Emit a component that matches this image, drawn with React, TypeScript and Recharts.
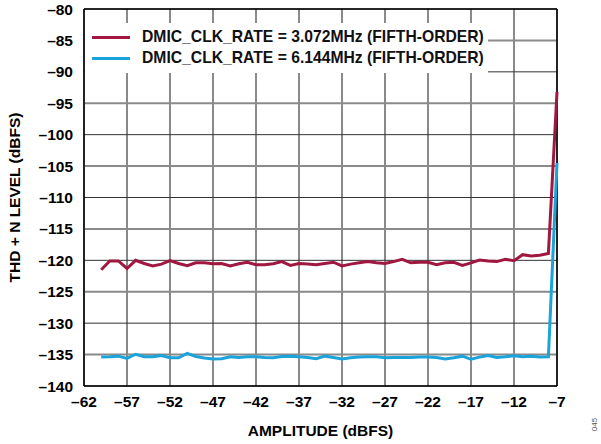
import {
    LineChart,
    Line,
    XAxis,
    YAxis,
    CartesianGrid,
    ReferenceLine,
    Label
} from "recharts";

// amplitude steps (dBFS)
const amplitude = [
    -60, -59, -58, -57, -56, -55, -54, -53, -52, -51, -50, -49, -48, -47, -46, -45, -44, -43,
    -42, -41, -40, -39, -38, -37, -36, -35, -34, -33, -32, -31, -30, -29, -28, -27, -26, -25,
    -24, -23, -22, -21, -20, -19, -18, -17, -16, -15, -14, -13, -12, -11, -10, -9, -8, -7
];

const rate3072 = [
    -121.5, -120.1, -120.1, -121.3, -120.0, -120.5, -120.9, -120.6, -120.05, -120.5, -120.85, -120.4,
    -120.4, -120.55, -120.5, -120.9, -120.55, -120.3, -120.7, -120.7, -120.55, -120.2, -120.8, -120.5,
    -120.6, -120.7, -120.5, -120.3, -120.9, -120.6, -120.4, -120.2, -120.4, -120.5, -120.2, -119.85,
    -120.4, -120.3, -120.3, -120.7, -120.4, -120.3, -120.8, -120.4, -119.95, -120.1, -120.2, -119.85,
    -120.05, -119.1, -119.3, -119.2, -118.9, -93.2
];

const rate6144 = [
    -135.4, -135.35, -135.25, -135.6, -134.95, -135.35, -135.35, -135.15, -135.5, -135.5, -134.8, -135.3,
    -135.55, -135.7, -135.65, -135.35, -135.45, -135.35, -135.35, -135.45, -135.5, -135.3, -135.25, -135.35,
    -135.45, -135.65, -135.25, -135.45, -135.7, -135.5, -135.4, -135.35, -135.35, -135.5, -135.45, -135.45,
    -135.45, -135.4, -135.4, -135.45, -135.7, -135.5, -135.25, -135.75, -135.4, -135.15, -135.45, -135.35,
    -135.2, -135.35, -135.25, -135.4, -135.35, -104.5
];

const xTicks = [-62, -57, -52, -47, -42, -37, -32, -27, -22, -17, -12, -7];
const yTicks = [-140, -135, -130, -125, -120, -115, -110, -105, -100, -95, -90, -85, -80];

const seriesNames = [
    "DMIC_CLK_RATE = 3.072MHz (FIFTH-ORDER)",
    "DMIC_CLK_RATE = 6.144MHz (FIFTH-ORDER)"
];
const RED = "#a0173f";
const BLUE = "#1ba3dc";
const FONT = "'Liberation Sans', Arial, sans-serif";

const data = amplitude.map((a, i) => ({ amp: a, r1: rate3072[i], r2: rate6144[i] }));

const fmt = (v: number) => String(v).replace("-", "\u2013");

const tickStyle = { fill: "#000", fontFamily: FONT, fontWeight: "bold", fontSize: 15.5 };

// legend sits over the grid with a white box
const LegendBox = () => (
    <div style={{ position: "absolute", left: 85, top: 23, width: 403, height: 50, background: "#fff", fontFamily: FONT, fontWeight: "bold", fontSize: 15.7 }}>
        {[RED, BLUE].map((c, i) => (
            <div key={i} style={{ position: "absolute", left: 7, top: 4 + i * 21, height: 20, display: "flex", alignItems: "center", whiteSpace: "nowrap" }}>
                <div style={{ width: 38, height: 3, background: c, marginRight: 12 }} />
                <span style={{ color: "#111" }}>{seriesNames[i]}</span>
            </div>
        ))}
    </div>
);

export default function App() {
    return (
        <div style={{ position: "absolute", left: 0, top: 0, width: 601, height: 444, background: "#fff" }}>
            <LineChart width={601} height={444} data={data} margin={{ top: 9, right: 44, bottom: 8, left: 0 }}>
                <CartesianGrid horizontal={false} stroke="#8a8a8a" strokeWidth={2} />
                {yTicks.map((t) => (
                    <ReferenceLine key={t} y={t} stroke={t % 10 === 0 ? "#333" : "#8a8a8a"} strokeWidth={t % 10 === 0 ? 1 : 2} />
                ))}
                <XAxis
                    dataKey="amp"
                    type="number"
                    domain={[-62, -7]}
                    ticks={xTicks}
                    tickFormatter={fmt}
                    tickLine={false}
                    tickMargin={4}
                    height={50}
                    axisLine={{ stroke: "#000", strokeWidth: 1.5 }}
                    tick={tickStyle}
                >
                    <Label value="AMPLITUDE (dBFS)" position="insideBottom" offset={0}
                        style={{ fill: "#000", fontFamily: FONT, fontWeight: "bold", fontSize: 15.5 }} />
                </XAxis>
                <YAxis
                    type="number"
                    domain={[-140, -80]}
                    ticks={yTicks}
                    tickFormatter={fmt}
                    tickLine={false}
                    tickMargin={5}
                    width={84}
                    axisLine={{ stroke: "#000", strokeWidth: 1.5 }}
                    tick={tickStyle}
                >
                    <Label value="THD + N LEVEL (dBFS)" angle={-90} position="insideLeft" offset={14}
                        style={{ textAnchor: "middle", fill: "#000", fontFamily: FONT, fontWeight: "bold", fontSize: 15.5 }} />
                </YAxis>
                <ReferenceLine y={-80} stroke="#000" strokeWidth={1.5} />
                <ReferenceLine x={-7} stroke="#000" strokeWidth={1.5} />
                <Line dataKey="r1" stroke={RED} strokeWidth={3} dot={false} isAnimationActive={false} />
                <Line dataKey="r2" stroke={BLUE} strokeWidth={3} dot={false} isAnimationActive={false} />
            </LineChart>
            <LegendBox />
            <div style={{ position: "absolute", left: 588, top: 420, fontFamily: FONT, fontSize: 8, color: "#555", transform: "rotate(-90deg)" }}>
                045
            </div>
        </div>
    );
}
